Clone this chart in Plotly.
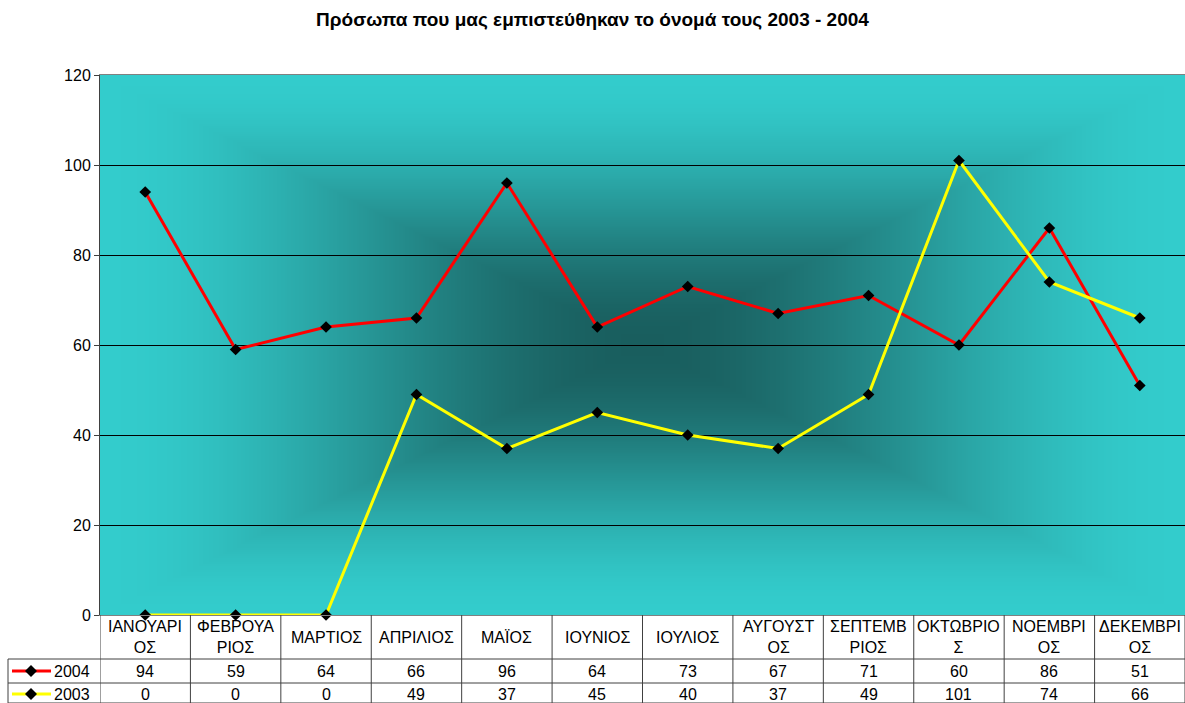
import base64
import struct
import zlib

import numpy as np
import plotly.graph_objects as go

# ---------------- data ----------------
months = ["ΙΑΝΟΥΑΡΙΟΣ", "ΦΕΒΡΟΥΑΡΙΟΣ", "ΜΑΡΤΙΟΣ", "ΑΠΡΙΛΙΟΣ", "ΜΑΪΟΣ", "ΙΟΥΝΙΟΣ",
          "ΙΟΥΛΙΟΣ", "ΑΥΓΟΥΣΤΟΣ", "ΣΕΠΤΕΜΒΡΙΟΣ", "ΟΚΤΩΒΡΙΟΣ", "ΝΟΕΜΒΡΙΟΣ", "ΔΕΚΕΜΒΡΙΟΣ"]
month_labels = ["ΙΑΝΟΥΑΡΙ<br>ΟΣ", "ΦΕΒΡΟΥΑ<br>ΡΙΟΣ", "ΜΑΡΤΙΟΣ", "ΑΠΡΙΛΙΟΣ", "ΜΑΪΟΣ",
                "ΙΟΥΝΙΟΣ", "ΙΟΥΛΙΟΣ", "ΑΥΓΟΥΣΤ<br>ΟΣ", "ΣΕΠΤΕΜΒ<br>ΡΙΟΣ", "ΟΚΤΩΒΡΙΟ<br>Σ",
                "ΝΟΕΜΒΡΙ<br>ΟΣ", "ΔΕΚΕΜΒΡΙ<br>ΟΣ"]
series_names = ["2004", "2003"]
values_2004 = [94, 59, 64, 66, 96, 64, 73, 67, 71, 60, 86, 51]
values_2003 = [0, 0, 0, 49, 37, 45, 40, 37, 49, 101, 74, 66]
y_ticks = [0, 20, 40, 60, 80, 100, 120]

# ---------------- style ----------------
FONT = "Liberation Sans, Arial, sans-serif"
FS = 16
W, H = 1185, 703
ML, MR, MT, MB = 100, 0, 75, 88
PW, PH = W - ML - MR, H - MT - MB
colors = {"2004": "#FF0000", "2003": "#FFFF00"}
GRID = "#000000"
BORDER = "#404040"


def py2paper(py):
    return (H - MB - py) / PH


def px2paper(px):
    return (px - ML) / PW


# --------- background: rectangular "from centre" gradient as PNG ---------
def gradient_png(w, h, c_center, c_edge):
    xs = np.abs(np.linspace(-1, 1, w))
    ys = np.abs(np.linspace(-1, 1, h))
    t = np.maximum(xs[None, :], ys[:, None])
    f = 3 * t ** 2 - 2 * t ** 3
    c0 = np.array(c_center, float)
    c1 = np.array(c_edge, float)
    img = (c0[None, None, :] + (c1 - c0)[None, None, :] * f[:, :, None]).round().astype(np.uint8)
    raw = b"".join(b"\x00" + img[r].tobytes() for r in range(h))

    def chunk(tag, data):
        c = struct.pack(">I", len(data)) + tag + data
        return c + struct.pack(">I", zlib.crc32(tag + data) & 0xFFFFFFFF)

    png = b"\x89PNG\r\n\x1a\n"
    png += chunk(b"IHDR", struct.pack(">IIBBBBB", w, h, 8, 2, 0, 0, 0))
    png += chunk(b"IDAT", zlib.compress(raw, 9))
    png += chunk(b"IEND", b"")
    return "data:image/png;base64," + base64.b64encode(png).decode()


bg_src = gradient_png(543, 270, (25, 94, 94), (51, 204, 204))

x_idx = list(range(len(months)))

fig = go.Figure()
for name, vals in zip(series_names, [values_2004, values_2003]):
    fig.add_trace(go.Scatter(
        x=x_idx, y=vals, name=name, mode="lines+markers",
        line=dict(color=colors[name], width=3),
        marker=dict(symbol="diamond", size=9, color="#000000"),
        cliponaxis=False,
    ))

annotations = []
shapes = []

# header row (month names)
for i, lab in enumerate(month_labels):
    annotations.append(dict(
        x=i, xref="x", y=py2paper(637), yref="paper", text=lab, showarrow=False,
        xanchor="center", yanchor="middle", align="center",
        font=dict(family=FONT, size=FS, color="#000000"),
    ))

row_centers = {"2004": 671, "2003": 694}
for name, vals in zip(series_names, [values_2004, values_2003]):
    yc = row_centers[name]
    for i, v in enumerate(vals):
        annotations.append(dict(
            x=i, xref="x", y=py2paper(yc), yref="paper", text=str(v), showarrow=False,
            xanchor="center", yanchor="middle",
            font=dict(family=FONT, size=FS, color="#000000"),
        ))
    # legend key text
    annotations.append(dict(
        x=px2paper(52), xref="paper", y=py2paper(yc), yref="paper", text=name,
        showarrow=False, xanchor="left", yanchor="middle",
        font=dict(family=FONT, size=FS, color="#000000"),
    ))
    # legend key line
    shapes.append(dict(type="line", xref="paper", yref="paper",
                       x0=px2paper(12), x1=px2paper(51), y0=py2paper(yc), y1=py2paper(yc),
                       line=dict(color=colors[name], width=3)))
    # legend key diamond
    cx, cy, d = px2paper(31), py2paper(yc), 6
    dx, dy = d / PW, d / PH
    shapes.append(dict(type="path", xref="paper", yref="paper",
                       path=f"M {cx-dx} {cy} L {cx} {cy+dy} L {cx+dx} {cy} L {cx} {cy-dy} Z",
                       fillcolor="#000000", line=dict(color="#000000", width=0)))

# table grid lines
for k in range(len(months) + 1):
    shapes.append(dict(type="line", xref="x", yref="paper", x0=k - 0.5, x1=k - 0.5,
                       y0=py2paper(615), y1=py2paper(H + 2), line=dict(color=BORDER, width=1)))
for yy in [659, 683, 703]:
    shapes.append(dict(type="line", xref="paper", yref="paper", x0=px2paper(8), x1=1,
                       y0=py2paper(yy), y1=py2paper(yy), line=dict(color=BORDER, width=1)))
shapes.append(dict(type="line", xref="paper", yref="paper", x0=px2paper(8), x1=px2paper(8),
                   y0=py2paper(659), y1=py2paper(H + 2), line=dict(color=BORDER, width=1)))

fig.update_layout(
    width=W, height=H, autosize=False,
    margin=dict(l=ML, r=MR, t=MT, b=MB, pad=0),
    paper_bgcolor="#FFFFFF", plot_bgcolor="rgba(0,0,0,0)",
    showlegend=False,
    title=dict(text="<b>Πρόσωπα που μας εμπιστεύθηκαν το όνομά τους 2003 - 2004</b>",
               x=0.5, xanchor="center", y=1 - 19 / H, yanchor="middle",
               font=dict(family=FONT, size=19, color="#000000")),
    font=dict(family=FONT, size=FS, color="#000000"),
    xaxis=dict(range=[-0.5, len(months) - 0.5], showgrid=False, zeroline=False,
               showticklabels=False, ticks="", showline=True, linecolor="#808080",
               linewidth=1, mirror=True, fixedrange=True),
    yaxis=dict(range=[0, 120], tickvals=y_ticks, showgrid=True, gridcolor=GRID, gridwidth=1,
               zeroline=False, showline=True, linecolor=BORDER, linewidth=1,
               ticks="outside", ticklen=5, tickcolor=BORDER,
               tickfont=dict(family=FONT, size=FS, color="#000000"), fixedrange=True),
    images=[dict(source=bg_src, xref="x", yref="y", x=-0.5, y=120, sizex=len(months),
                 sizey=120, sizing="stretch", layer="below", xanchor="left", yanchor="top")],
    annotations=annotations,
    shapes=shapes,
)

fig.write_html("out.html", config={"displayModeBar": False},
               post_script="document.body.style.margin='0';document.body.style.overflow='hidden';")
